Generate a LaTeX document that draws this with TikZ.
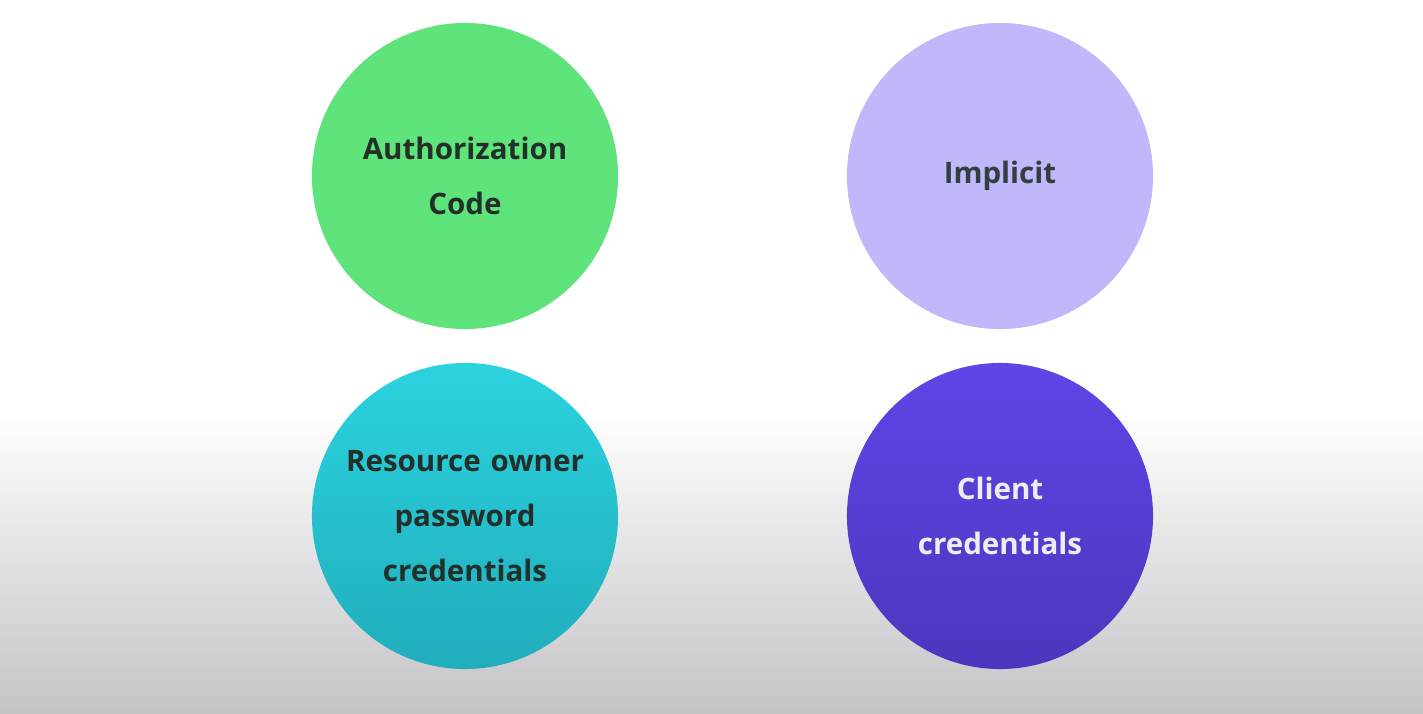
\documentclass[tikz,border=0pt]{standalone}
\usepackage{fontspec}
\setmainfont{Open Sans}
\usetikzlibrary{backgrounds}
\definecolor{acGreen} {HTML}{5FE47B}
\definecolor{imLilac} {HTML}{C0B8FA}
\definecolor{roTealT} {HTML}{2BD3DF}
\definecolor{roTealB} {HTML}{21ADBC}
\definecolor{ccBlueT} {HTML}{5D46E6}
\definecolor{ccBlueB} {HTML}{4A37BE}
\definecolor{bgGrey}  {HTML}{C4C4C7}
\definecolor{txtDark} {HTML}{23302A}
\definecolor{txtLight}{HTML}{EDEDF4}

\begin{document}
\begin{tikzpicture}[
  x=0.025cm,y=-0.025cm,
  font=\fontsize{21}{39}\selectfont\bfseries,
  grant/.style={circle,minimum size=7.65cm,inner sep=0pt,align=center,
                text width=6.6cm,text=txtDark},
  authC/.style={grant,fill=acGreen},
  implC/.style={grant,fill=imLilac,text=txtDark!90!imLilac},
  ropcC/.style={grant,top color=roTealT,bottom color=roTealB},
  credC/.style={grant,top color=ccBlueT,bottom color=ccBlueB,text=txtLight},
]

% ---- page and backdrop ----------------------------------------------------
\useasboundingbox (0,0) rectangle (1423,713);
\fill[white] (0,0) rectangle (1423,713);
\shade[top color=white,bottom color=bgGrey] (0,410) rectangle (1423,713);

% ---- grant types (2 x 2) --------------------------------------------------
\node[authC] (auth) at (465,176)  {Authorization\\Code};
\node[implC] (impl) at (1000,176) {Implicit};

\node[ropcC] (ropc) at (465,516)  {Resource owner\\password\\credentials};
\node[credC] (cred) at (1000,516) {Client\\credentials};

\end{tikzpicture}
\end{document}
